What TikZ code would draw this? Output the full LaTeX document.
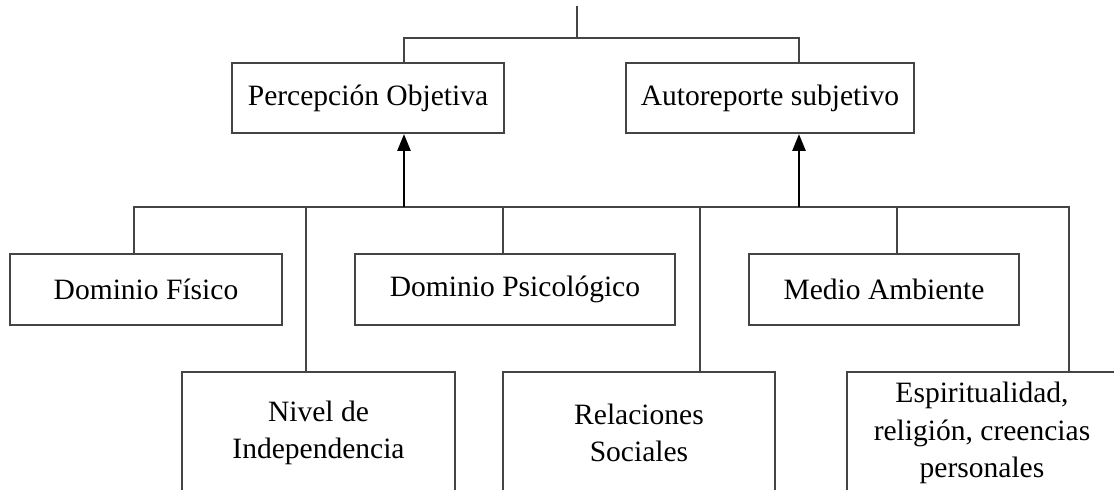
\documentclass[tikz,border=0pt]{standalone}
\usepackage{fontspec}
\setmainfont{Liberation Serif}
\usetikzlibrary{arrows.meta}
\definecolor{linegray}{RGB}{68,68,68}

\begin{document}
\begin{tikzpicture}[x=0.025cm,y=-0.025cm,
caja/.style={draw=linegray,line width=1.4pt,align=center,inner sep=0pt,
  font=\fontsize{21}{26.5}\selectfont},
linea/.style={draw=linegray,line width=1.4pt},
flecha/.style={draw=black,line width=2pt,-{Triangle[length=0.42cm,width=0.32cm]}}]
\useasboundingbox (0,0) rectangle (1114,490);
\clip (0,0) rectangle (1114,490);
% top level
\node[caja,minimum width=6.8cm,minimum height=1.75cm] (po) at (368,98) {Percepción Objetiva};
\node[caja,minimum width=7.2cm,minimum height=1.75cm] (as) at (770,98) {Autoreporte subjetivo};
\coordinate (raiz) at (577,6);
\coordinate (b0) at (577,38);
\coordinate (p1) at (404,38);
\coordinate (p2) at (799,38);
\draw[linea] (raiz) -- (b0);
\draw[linea] (p1 |- po.north) -- (p1) -- (p2) -- (p2 |- as.north);
% dominios
\node[caja,minimum width=6.8cm,minimum height=1.775cm] (df) at (146,289.5) {Dominio Físico};
\node[caja,minimum width=8.0cm,minimum height=1.775cm] (dp) at (515,289.5) {Dominio Psicológico};
\node[caja,minimum width=6.75cm,minimum height=1.775cm] (ma) at (884,289.5) {Medio Ambiente};
\node[caja,minimum width=6.8cm,minimum height=3.05cm] (ni) at (318.5,433) {Nivel de\\Independencia};
\node[caja,minimum width=6.8cm,minimum height=3.05cm] (rs) at (639,433) {Relaciones\\Sociales};
\node[caja,minimum width=6.75cm,minimum height=3.05cm] (er) at (982,433) {Espiritualidad,\\religión, creencias\\personales};
% bus inferior
\coordinate (d1) at (134,207);
\coordinate (d2) at (306,207);
\coordinate (a1) at (404,207);
\coordinate (d3) at (503,207);
\coordinate (d4) at (700,207);
\coordinate (a2) at (799,207);
\coordinate (d5) at (897,207);
\coordinate (d6) at (1069,207);
\draw[linea] (d1 |- df.north) -- (d1) -- (d6) -- (d6 |- er.north);
\draw[linea] (d2) -- (d2 |- ni.north);
\draw[linea] (d3) -- (d3 |- dp.north);
\draw[linea] (d4) -- (d4 |- rs.north);
\draw[linea] (d5) -- (d5 |- ma.north);
% flechas
\draw[flecha] (a1) -- (a1 |- po.south);
\draw[flecha] (a2) -- (a2 |- as.south);
\end{tikzpicture}
\end{document}
